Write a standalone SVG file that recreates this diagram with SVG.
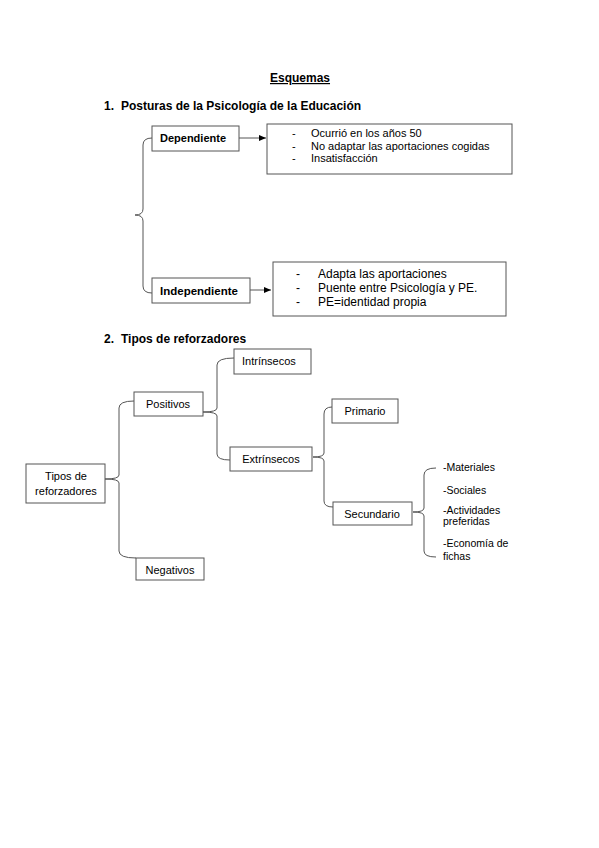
<svg xmlns="http://www.w3.org/2000/svg" width="599" height="848" viewBox="0 0 599 848">
<style>
text{font-family:"Liberation Sans",Arial,sans-serif;fill:#000}
.h{font-weight:bold;font-size:12px}
.b{fill:#fff;stroke:#555;stroke-width:1}
.t{font-size:11px}
.l{font-size:10.5px}
.d{font-size:12px}
.tb{font-size:11px;font-weight:bold}
.c{fill:none;stroke:#555;stroke-width:1}
</style>
<defs>
<marker id="ar" markerWidth="8" markerHeight="8" refX="7" refY="4" orient="auto" markerUnits="userSpaceOnUse">
<path d="M0,1 L7,4 L0,7 Z" fill="#000"/>
</marker>
</defs>
<rect width="599" height="848" fill="#fff"/>
<text class="h" x="300" y="82" text-anchor="middle" text-decoration="underline">Esquemas</text>
<text class="h" x="104" y="110">1.</text><text class="h" x="121" y="110">Posturas de la Psicología de la Educación</text>
<text class="h" x="104" y="343">2.</text><text class="h" x="121" y="343">Tipos de reforzadores</text>

<g id="connectors">
<path class="c" d="M152,138 Q143,138 143,145 L143,209 Q143,215 135,215 Q143,215 143,221 L143,286 Q143,293 152,293"/>
<line class="c" x1="239" y1="138" x2="266" y2="138" marker-end="url(#ar)"/>
<line class="c" x1="250" y1="290" x2="271" y2="290" marker-end="url(#ar)"/>
<path class="c" d="M134,401 Q119,401 119,408 L119,475 Q119,479 105,479 Q119,479 119,483 L119,551 Q119,558 136,558"/>
<path class="c" d="M234,358 Q217,358 217,365 L217,408 Q217,412 203,412 Q217,412 217,416 L217,454 Q217,460 230,460"/>
<path class="c" d="M332,407 Q324,407 324,414 L324,453 Q324,457 313,457 Q324,457 324,461 L324,501 Q324,507 333,507"/>
<path class="c" d="M436,468 Q424,468 424,475 L424,508 Q424,512 413,512 Q424,512 424,516 L424,551 Q424,557 436,557"/>
</g>

<g id="dependiente">
<rect class="b" x="152" y="126" width="87" height="25"/>
<text class="tb" x="160" y="142">Dependiente</text>
</g>
<g id="dep-detalle">
<rect class="b" x="267" y="124" width="245" height="50"/>
<text class="t" x="292" y="137">-</text><text class="t" x="311" y="137">Ocurrió en los años 50</text>
<text class="t" x="292" y="150">-</text><text class="t" x="311" y="150">No adaptar las aportaciones cogidas</text>
<text class="t" x="292" y="162">-</text><text class="t" x="311" y="162">Insatisfacción</text>
</g>
<g id="independiente">
<rect class="b" x="152" y="278" width="98" height="25"/>
<text class="tb" x="160" y="295" style="font-size:11.5px">Independiente</text>
</g>
<g id="indep-detalle">
<rect class="b" x="273" y="262" width="233" height="54"/>
<text class="d" x="296" y="278">-</text><text class="d" x="318" y="278">Adapta las aportaciones</text>
<text class="d" x="296" y="292">-</text><text class="d" x="318" y="292">Puente entre Psicología y PE.</text>
<text class="d" x="296" y="306">-</text><text class="d" x="318" y="306">PE=identidad propia</text>
</g>

<g id="tipos">
<rect class="b" x="26" y="464" width="79" height="39"/>
<text class="t" x="66" y="480" text-anchor="middle">Tipos de</text>
<text class="t" x="66" y="495" text-anchor="middle">reforzadores</text>
</g>
<g id="positivos">
<rect class="b" x="134" y="392" width="69" height="24"/>
<text class="t" x="168" y="408" text-anchor="middle">Positivos</text>
</g>
<g id="negativos">
<rect class="b" x="136" y="558" width="68" height="22"/>
<text class="t" x="170" y="574" text-anchor="middle">Negativos</text>
</g>
<g id="intrinsecos">
<rect class="b" x="234" y="349" width="77" height="25"/>
<text class="t" x="242" y="365">Intrínsecos</text>
</g>
<g id="extrinsecos">
<rect class="b" x="230" y="447" width="82" height="24"/>
<text class="t" x="271" y="463" text-anchor="middle">Extrínsecos</text>
</g>
<g id="primario">
<rect class="b" x="332" y="399" width="66" height="24"/>
<text class="t" x="365" y="415" text-anchor="middle">Primario</text>
</g>
<g id="secundario">
<rect class="b" x="333" y="502" width="79" height="23"/>
<text class="t" x="372" y="518" text-anchor="middle">Secundario</text>
</g>
<g id="secundario-lista">
<text class="l" x="443" y="471">-Materiales</text>
<text class="l" x="443" y="494">-Sociales</text>
<text class="l" x="443" y="514">-Actividades</text>
<text class="l" x="443" y="525">preferidas</text>
<text class="l" x="443" y="547">-Economía de</text>
<text class="l" x="443" y="560">fichas</text>
</g>
</svg>
